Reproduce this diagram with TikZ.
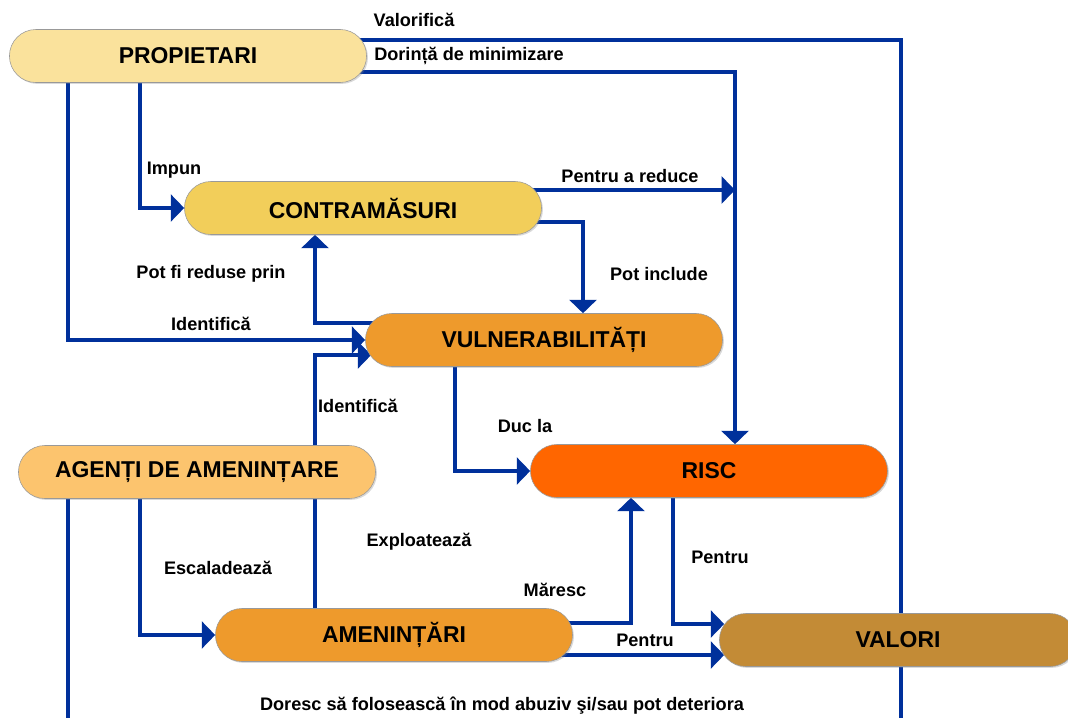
\documentclass[tikz,border=0pt]{standalone}
\usepackage{fontspec}
\setmainfont{Liberation Sans}
\usetikzlibrary{arrows.meta,backgrounds,calc,shadows}
\definecolor{linkblue}{RGB}{0,48,155}
\definecolor{propfill}{RGB}{250,226,156}
\definecolor{contrafill}{RGB}{242,206,90}
\definecolor{vulnfill}{RGB}{238,154,44}
\definecolor{agentfill}{RGB}{252,196,110}
\definecolor{riscfill}{RGB}{255,102,0}
\definecolor{valfill}{RGB}{195,139,54}
\tikzset{
 box/.style={rectangle,rounded corners=0.66cm,minimum width=8.925cm,minimum height=1.325cm,
   draw=black!40,line width=0.4pt,font=\fontsize{16.3}{19}\selectfont\bfseries,
   drop shadow={opacity=0.3,shadow xshift=1pt,shadow yshift=-1pt}},
 plainlink/.style={draw=linkblue,line width=2.8pt},
 link/.style={plainlink,-{Triangle[length=9.5pt,width=19pt]}},
 lbl/.style={font=\fontsize{12.9}{15}\selectfont\bfseries,inner sep=0pt}
}
\begin{document}
\begin{tikzpicture}[x=0.025cm,y=-0.025cm]
 \useasboundingbox (0,0) rectangle (1068,718);
 \node[box,fill=propfill] (prop) at (188,56) {PROPIETARI};
 \node[box,fill=contrafill] (contra) at (363,208) {CONTRAMĂSURI};
 \node[box,fill=vulnfill] (vuln) at (544,340) {VULNERABILITĂȚI};
 \node[box,fill=agentfill] (agenti) at (197,472) {AGENȚI DE AMENINȚARE};
 \node[box,fill=riscfill] (risc) at (709,471) {RISC};
 \node[box,fill=vulnfill] (amen) at (394,635) {AMENINȚĂRI};
 \node[box,fill=valfill] (valori) at (898,640) {VALORI};
 \coordinate (vend) at (901,722);
 \coordinate (aend) at (68,722);
 \coordinate (reduce) at (735,190);
 \begin{scope}[on background layer]
  \draw[plainlink] (prop.center |- 0,40) -| (vend);
  \draw[link] (prop.center |- 0,72) -| (risc.north -| 735,0);
  \draw[link] (contra.center |- 0,190) -- (reduce);
  \draw[link] (prop.south -| 140,0) |- (contra.west);
  \draw[link] (prop.south -| 68,0) |- (vuln.west);
  \draw[link] (vuln.center |- 0,323) -| (contra.south -| 315,0);
  \draw[link] (contra.center |- 0,222) -| (vuln.north -| 583,0);
  \draw[link] (amen.north -| 315,0) |- ($(vuln.west)+(6,15)$);
  \draw[link] (vuln.south -| 455,0) |- (risc.west);
  \draw[link] (agenti.south -| 140,0) |- (amen.west);
  \draw[plainlink] (agenti.south -| 68,0) -- (aend);
  \draw[link] (amen.center |- 0,623) -| (risc.south -| 631,0);
  \draw[link] (risc.south -| 673,0) |- ($(valori.west)+(5,-16)$);
  \draw[link] (amen.center |- 0,655) -- ($(valori.west)+(5,15)$);
 \end{scope}
 \node[lbl] (valorifica) at (414,20) {Valorifică};
 \node[lbl] (dorinta) at (469,56) {Dorință de minimizare};
 \node[lbl] (impun) at (174,170) {Impun};
 \node[lbl] (pentrured) at (630,176) {Pentru a reduce};
 \node[lbl] (redprin) at (211,274) {Pot fi reduse prin};
 \node[lbl] (potincl) at (659,274) {Pot include};
 \node[lbl] (identprop) at (211,324) {Identifică};
 \node[lbl] (identag) at (358,406) {Identifică};
 \node[lbl] (duc) at (525,426) {Duc la};
 \node[lbl] (exploat) at (419,542) {Exploatează};
 \node[lbl] (escal) at (218,568) {Escaladează};
 \node[lbl] (maresc) at (555,590) {Măresc};
 \node[lbl] (pentrurisc) at (720,557) {Pentru};
 \node[lbl] (pentruamen) at (645,640) {Pentru};
 \node[lbl] (doresc) at (502,706) {Doresc să folosească în mod abuziv şi/sau pot deteriora};
\end{tikzpicture}
\end{document}
